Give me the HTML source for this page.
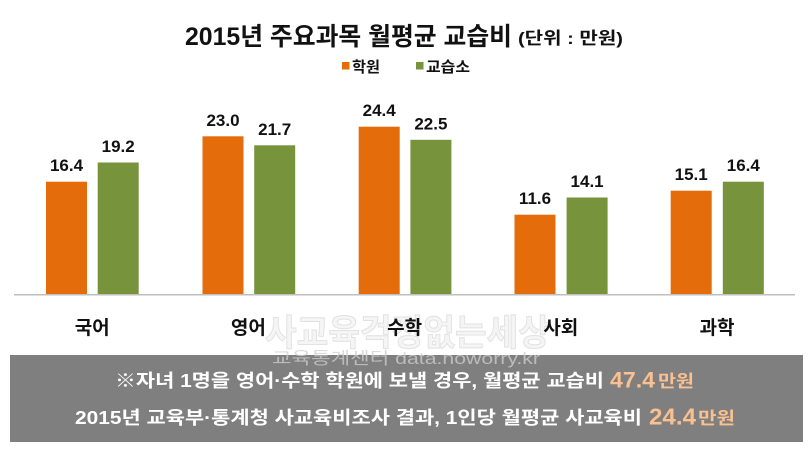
<!DOCTYPE html>
<html><head><meta charset="utf-8"><style>
html,body{margin:0;padding:0;background:#fff;}
svg{display:block;}
.k{font-family:"Liberation Sans","Noto Sans CJK KR",sans-serif;font-weight:bold;}
.n{font-family:"Liberation Sans","Noto Sans CJK KR",sans-serif;font-weight:bold;}
.w{font-family:"Liberation Sans","Noto Sans CJK KR",sans-serif;}
</style></head><body>
<svg width="810" height="450" viewBox="0 0 810 450" xmlns="http://www.w3.org/2000/svg">
<rect width="810" height="450" fill="#fff"/>
<!-- title -->
<text class="k" x="185" y="45" font-size="25" fill="#111" textLength="327" lengthAdjust="spacingAndGlyphs">2015년 주요과목 월평균 교습비</text>
<text class="k" x="518" y="44" font-size="17" fill="#111" textLength="105" lengthAdjust="spacingAndGlyphs">(단위 : 만원)</text>
<!-- legend -->
<rect x="342" y="62" width="7.5" height="7.5" fill="#e46c0a"/>
<text class="k" x="352" y="72" font-size="15" fill="#111" textLength="28" lengthAdjust="spacingAndGlyphs">학원</text>
<rect x="416" y="62" width="7.5" height="7.5" fill="#77933c"/>
<text class="k" x="426" y="72" font-size="15" fill="#111" textLength="44" lengthAdjust="spacingAndGlyphs">교습소</text>
<!-- bars -->
<g fill="#e46c0a">
<rect x="46" y="181.7" width="41" height="112.8"/>
<rect x="202.5" y="136.3" width="41" height="158.2"/>
<rect x="358.7" y="126.7" width="41" height="167.8"/>
<rect x="514.5" y="214.7" width="41" height="79.8"/>
<rect x="670.7" y="190.7" width="41" height="103.8"/>
</g>
<g fill="#77933c">
<rect x="97.7" y="162.5" width="41" height="132"/>
<rect x="254.2" y="145.3" width="41" height="149.2"/>
<rect x="410.4" y="139.8" width="41" height="154.7"/>
<rect x="566.6" y="197.5" width="41" height="97"/>
<rect x="722.8" y="181.7" width="41" height="112.8"/>
</g>
<line x1="14" y1="294.8" x2="795" y2="294.8" stroke="#bfbfbf" stroke-width="1.5"/>
<!-- data labels -->
<g class="n" font-size="17" fill="#111" text-anchor="middle">
<text x="66.5" y="171.2">16.4</text>
<text x="118.2" y="152">19.2</text>
<text x="223" y="125.8">23.0</text>
<text x="274.7" y="134.8">21.7</text>
<text x="379.2" y="116.2">24.4</text>
<text x="430.9" y="129.3">22.5</text>
<text x="535" y="204.2">11.6</text>
<text x="587.1" y="187">14.1</text>
<text x="691.2" y="180.2">15.1</text>
<text x="743.3" y="171.2">16.4</text>
</g>
<!-- watermark big -->
<text class="k" x="265" y="345" font-size="36" fill="#f5f5f5" stroke="#e2e2e2" stroke-width="1" textLength="285" lengthAdjust="spacingAndGlyphs">사교육걱정없는세상</text>
<!-- category labels -->
<g class="k" font-size="19" fill="#111" text-anchor="middle">
<text x="92.2" y="334">국어</text>
<text x="248.4" y="334">영어</text>
<text x="404.6" y="334">수학</text>
<text x="560.8" y="334">사회</text>
<text x="717" y="334">과학</text>
</g>
<!-- bottom box -->
<rect x="10" y="355" width="793" height="87" fill="#7f7f7f"/>
<text class="w" x="272" y="364" font-size="17" fill="#cfcfcf" fill-opacity="0.75" textLength="268" lengthAdjust="spacingAndGlyphs">교육통계센터 data.noworry.kr</text>
<text class="k" x="115" y="387" font-size="18" fill="#fff" textLength="489" lengthAdjust="spacingAndGlyphs">※자녀 1명을 영어·수학 학원에 보낼 경우, 월평균 교습비</text>
<text class="n" x="610" y="387.5" font-size="22" fill="#fac090" textLength="45" lengthAdjust="spacingAndGlyphs">47.4</text>
<text class="k" x="658" y="387" font-size="17" fill="#fac090" textLength="36" lengthAdjust="spacingAndGlyphs">만원</text>
<text class="k" x="75" y="424" font-size="18" fill="#fff" textLength="567" lengthAdjust="spacingAndGlyphs">2015년 교육부·통계청 사교육비조사 결과, 1인당 월평균 사교육비</text>
<text class="n" x="649" y="424.5" font-size="23" fill="#fac090" textLength="47" lengthAdjust="spacingAndGlyphs">24.4</text>
<text class="k" x="698" y="424" font-size="17" fill="#fac090" textLength="37" lengthAdjust="spacingAndGlyphs">만원</text>
</svg>
</body></html>
